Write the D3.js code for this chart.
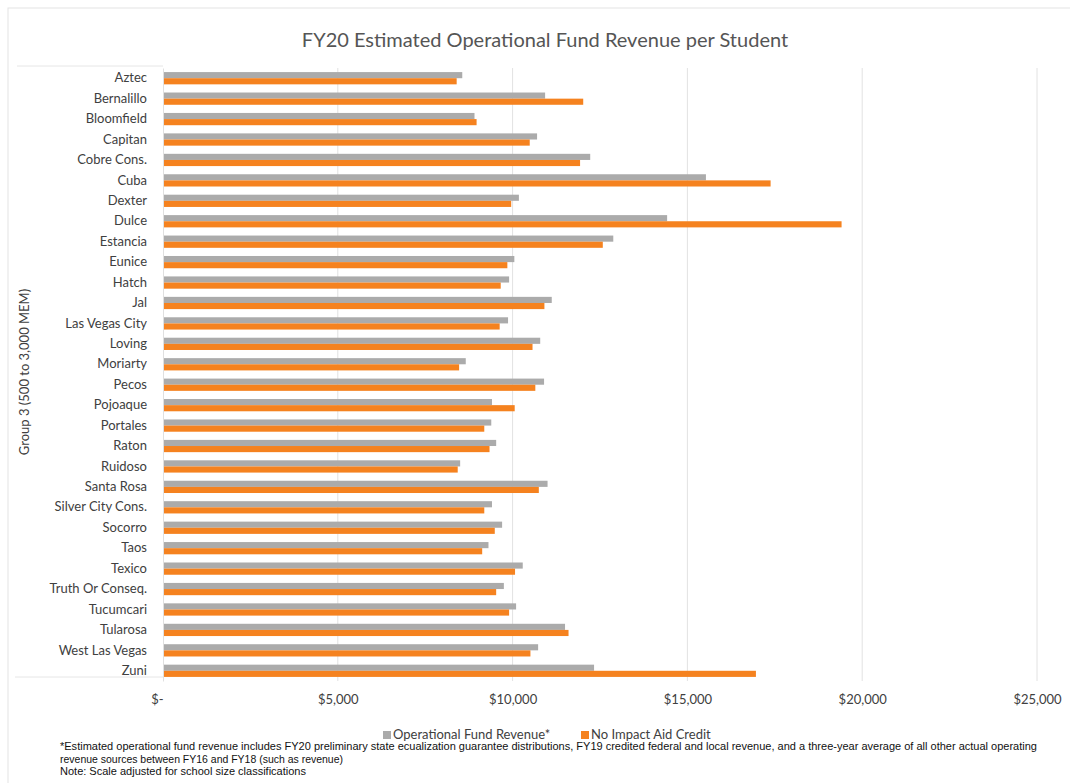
<!DOCTYPE html>
<html lang="en">
  <head>
    <meta charset="UTF-8" />
    <title>FY20 Estimated Operational Fund Revenue per Student</title>
    <script src="https://d3js.org/d3.v7.min.js"></script>
    <style>
      body {
        margin: 0;
        background: #fff;
        font-family: Lato, "Open Sans", sans-serif;
      }
    </style>
  </head>
  <body>
    <svg id="chart" width="1070" height="783"></svg>
    <script>
      // Districts, top to bottom
      const districts = [
        "Aztec", "Bernalillo", "Bloomfield", "Capitan", "Cobre Cons.", "Cuba",
        "Dexter", "Dulce", "Estancia", "Eunice", "Hatch", "Jal", "Las Vegas City",
        "Loving", "Moriarty", "Pecos", "Pojoaque", "Portales", "Raton", "Ruidoso",
        "Santa Rosa", "Silver City Cons.", "Socorro", "Taos", "Texico",
        "Truth Or Conseq.", "Tucumcari", "Tularosa", "West Las Vegas", "Zuni"
      ];
      const operational = [
        8560, 10930, 8910, 10700, 12220, 15530, 10180, 14420, 12880, 10050,
        9900, 11120, 9870, 10790, 8660, 10900, 9410, 9390, 9530, 8500,
        11000, 9410, 9700, 9310, 10290, 9750, 10100, 11500, 10730, 12330
      ];
      const noImpactAid = [
        8400, 12020, 8970, 10490, 11930, 17380, 9960, 19410, 12580, 9850,
        9660, 10910, 9630, 10570, 8470, 10650, 10060, 9190, 9340, 8430,
        10750, 9190, 9490, 9130, 10070, 9530, 9900, 11600, 10510, 16960
      ];
      const seriesNames = ["Operational Fund Revenue*", "No Impact Aid Credit"];
      const seriesColors = ["#ababab", "#f5821f"];
      const xTicks = [0, 5000, 10000, 15000, 20000, 25000];

      const rows = districts.map((d, i) => ({
        name: d,
        values: [operational[i], noImpactAid[i]]
      }));

      const svg = d3.select("#chart");
      const plot = { left: 163, right: 1037, top: 68, bottom: 681 };

      // outer chart border (faint, like the scanned original)
      svg.append("rect")
        .attr("x", 8).attr("y", 8)
        .attr("width", 1080).attr("height", 790)
        .attr("fill", "none")
        .attr("stroke", "#e4e4e4");

      svg.append("text")
        .attr("x", 545).attr("y", 47)
        .attr("text-anchor", "middle")
        .attr("font-size", 20)
        .attr("fill", "#555")
        .text("FY20 Estimated Operational Fund Revenue per Student");

      const x = d3.scaleLinear().domain([0, 25000]).range([plot.left, plot.right]);
      const y = d3.scaleBand().domain(districts).range([plot.top, plot.bottom]).paddingInner(0.4).paddingOuter(0.2);
      const ySub = d3.scaleBand().domain([0, 1]).range([0, y.bandwidth()]);

      // gridlines
      svg.append("g")
        .selectAll("line")
        .data(xTicks.slice(1))
        .join("line")
        .attr("x1", (d) => x(d)).attr("x2", (d) => x(d))
        .attr("y1", plot.top).attr("y2", plot.bottom)
        .attr("stroke", "#e2e2e2");

      // faint frame around the category labels
      svg.append("line")
        .attr("x1", 17).attr("x2", plot.left).attr("y1", plot.top - 2).attr("y2", plot.top - 2)
        .attr("stroke", "#e6e6e6");
      svg.append("line")
        .attr("x1", 15).attr("x2", plot.left).attr("y1", plot.bottom - 4).attr("y2", plot.bottom - 4)
        .attr("stroke", "#e6e6e6");

      // bars
      const groups = svg.append("g")
        .selectAll("g")
        .data(rows)
        .join("g")
        .attr("transform", (d) => `translate(0,${y(d.name)})`);

      groups.selectAll("rect")
        .data((d) => d.values.map((v, i) => ({ v, i })))
        .join("rect")
        .attr("x", x(0))
        .attr("y", (d) => ySub(d.i))
        .attr("width", (d) => x(d.v) - x(0))
        .attr("height", ySub.bandwidth())
        .attr("fill", (d) => seriesColors[d.i]);

      // category axis
      const yAxis = svg.append("g")
        .attr("transform", `translate(${plot.left},0)`)
        .call(d3.axisLeft(y).tickSize(0).tickPadding(16));
      yAxis.select(".domain").attr("stroke", "#e0e0e0");
      yAxis.selectAll("text")
        .attr("font-family", "Lato, sans-serif")
        .attr("font-size", 13)
        .attr("fill", "#404040");

      // value axis
      const xAxis = svg.append("g")
        .attr("transform", `translate(0,${plot.bottom})`)
        .call(
          d3.axisBottom(x)
            .tickValues(xTicks)
            .tickSize(0)
            .tickPadding(14)
            .tickFormat((d) => (d === 0 ? "$-" : d3.format("$,")(d)))
        );
      xAxis.select(".domain").remove();
      xAxis.selectAll("text")
        .attr("font-family", "Lato, sans-serif")
        .attr("font-size", 13)
        .attr("fill", "#404040")
        .attr("dx", (d) => (d === 0 ? -6 : 0));

      // y axis title
      svg.append("text")
        .attr("transform", "translate(29,372) rotate(-90)")
        .attr("text-anchor", "middle")
        .attr("font-size", 13)
        .attr("fill", "#404040")
        .text("Group 3 (500 to 3,000 MEM)");

      // legend
      const legend = svg.append("g").attr("transform", "translate(383,731)");
      const legendX = [0, 198];
      seriesNames.forEach((name, i) => {
        legend.append("rect")
          .attr("x", legendX[i]).attr("y", 0)
          .attr("width", 8).attr("height", 8)
          .attr("fill", seriesColors[i]);
        legend.append("text")
          .attr("x", legendX[i] + 10).attr("y", 8)
          .attr("font-size", 13)
          .attr("fill", "#404040")
          .text(name);
      });

      // footnotes
      const notes = [
        "*Estimated operational fund revenue includes FY20 preliminary state ecualization guarantee distributions, FY19 credited federal and local revenue, and a three-year average of all other actual operating",
        "revenue sources between FY16 and FY18 (such as revenue)",
        "Note: Scale adjusted for school size classifications"
      ];
      const noteWidths = [977, 283, 246];
      svg.append("g")
        .selectAll("text")
        .data(notes)
        .join("text")
        .attr("x", 60)
        .attr("y", (d, i) => 750 + i * 12.5)
        .attr("font-family", "'Liberation Sans Narrow', 'Liberation Sans', Arial, sans-serif")
        .attr("font-size", 11)
        .attr("fill", "#111")
        .attr("textLength", (d, i) => noteWidths[i])
        .attr("lengthAdjust", "spacingAndGlyphs")
        .text((d) => d);
    </script>
  </body>
</html>
